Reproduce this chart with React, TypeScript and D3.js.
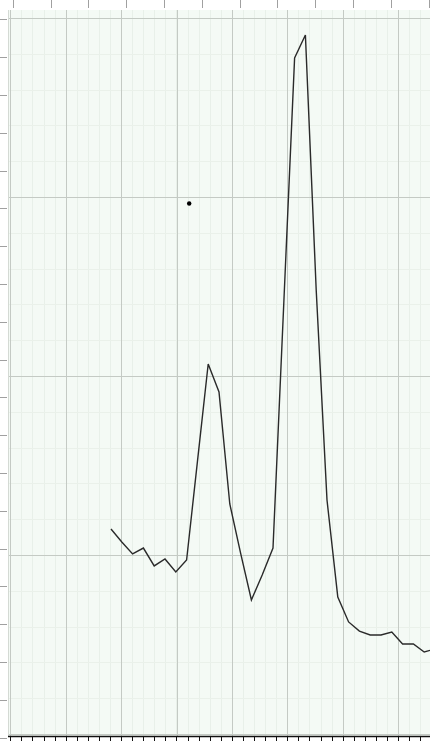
import React from "react";
import * as d3 from "d3";

// series values (y in chart units, major grid = 100)
const seriesValues = [
  114.5, 107.3, 100.6, 103.9, 93.9, 97.8, 90.5, 97.2, 152, 206.7,
  191.1, 128.5, 101.1, 74.9, 88.8, 103.9, 240.8, 377.7, 390.5, 248,
  130.7, 76.5, 62.6, 57.5, 55.3, 55.3, 57, 50.3, 50.3, 45.8, 47.5,
];
const seriesIndex = seriesValues.map((_, i) => i);
const markerPoint = [{ x: 7.24, y: 296.4 }];
const majorYTicks = [0, 100, 200, 300, 400];
const minorYTicks = d3.range(0, 401, 20);
const gridXMajor = d3.range(0, 8);
const gridXMinor = d3.range(0, 40);
const leftTickIdx = d3.range(0, 20);
const topTickIdx = d3.range(0, 12);
const bottomTickIdx = d3.range(0, 40);

const W = 430;
const H = 742;

export default function App() {
  const plotLeft = 8;
  const plotTop = 10;
  const axisY = 736.5;

  const y = d3.scaleLinear().domain([0, 400]).range([734, 18]);
  const x = d3.scaleLinear().domain([0, 29]).range([111, 424.2]);
  const gx = d3.scaleLinear().domain([0, 1]).range([10.3, 65.7]);
  const gxMinor = d3.scaleLinear().domain([0, 1]).range([10.3, 21.38]);
  const leftTick = d3.scaleLinear().domain([0, 1]).range([19.3, 57.1]);
  const topTick = d3.scaleLinear().domain([0, 1]).range([12.7, 50.5]);

  const line = d3
    .line<number>()
    .x((_, i) => x(seriesIndex[i]))
    .y((d) => y(d));

  return (
    <svg
      width={W}
      height={H}
      style={{ position: "absolute", left: 0, top: 0, background: "#fff" }}
    >
      <rect x={plotLeft} y={plotTop} width={W - plotLeft} height={axisY - plotTop} fill="#f4faf5" />
      {gridXMinor.map((i) => (
        <line key={"mvx" + i} x1={Math.round(gxMinor(i)) + 0.5} x2={Math.round(gxMinor(i)) + 0.5} y1={plotTop} y2={axisY} stroke="#e8f0e9" strokeWidth={1} />
      ))}
      {minorYTicks.map((v) => (
        <line key={"mhy" + v} x1={plotLeft} x2={W} y1={Math.round(y(v)) + 0.5} y2={Math.round(y(v)) + 0.5} stroke="#eaf1ea" strokeWidth={1} />
      ))}
      {gridXMajor.map((i) => (
        <line key={"gx" + i} x1={Math.round(gx(i)) + 0.5} x2={Math.round(gx(i)) + 0.5} y1={plotTop} y2={axisY} stroke="#c4cac4" strokeWidth={1} />
      ))}
      {majorYTicks.map((v) => (
        <line key={"gy" + v} x1={plotLeft} x2={W} y1={Math.round(y(v)) + 0.5} y2={Math.round(y(v)) + 0.5} stroke="#c4cac4" strokeWidth={1} />
      ))}
      <line x1={plotLeft + 0.5} x2={plotLeft + 0.5} y1={plotTop} y2={axisY} stroke="#d4dad4" />
      {leftTickIdx.map((i) => (
        <line key={"lt" + i} x1={0} x2={7} y1={Math.round(leftTick(i)) + 0.5} y2={Math.round(leftTick(i)) + 0.5} stroke="#a0a0a0" />
      ))}
      {topTickIdx.map((i) => (
        <line key={"tt" + i} x1={Math.round(topTick(i)) + 0.5} x2={Math.round(topTick(i)) + 0.5} y1={0} y2={8} stroke="#a0a0a0" />
      ))}
      <line x1={plotLeft} x2={W} y1={axisY} y2={axisY} stroke="#111" strokeWidth={1.5} />
      {bottomTickIdx.map((i) => (
        <line key={"bt" + i} x1={Math.round(gxMinor(i)) + 0.5} x2={Math.round(gxMinor(i)) + 0.5} y1={axisY} y2={741} stroke="#111" />
      ))}
      <path d={line(seriesValues) || ""} fill="none" stroke="#2a2a2a" strokeWidth={1.4} />
      {markerPoint.map((p, i) => (
        <circle key={i} cx={x(p.x)} cy={y(p.y)} r={2.2} fill="#000" />
      ))}
    </svg>
  );
}
